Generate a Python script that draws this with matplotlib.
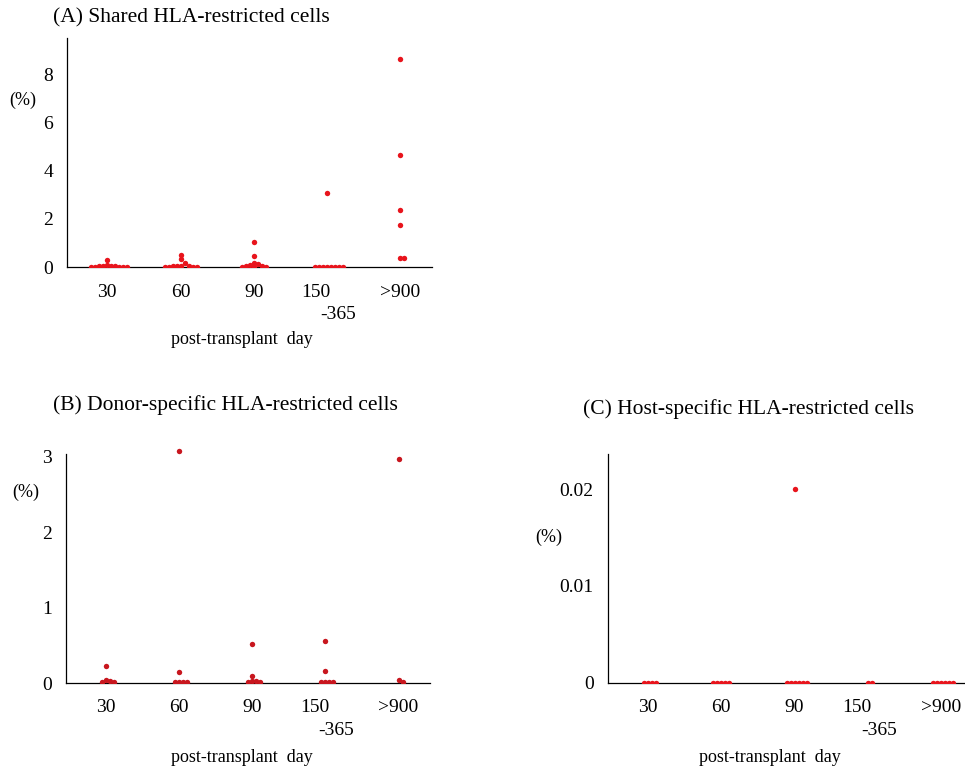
import matplotlib
matplotlib.use("Agg")
import matplotlib.pyplot as plt

# ── Data (percent of cells) ───────────────────────────────────
CATEGORIES = ["30", "60", "90", "150", ">900"]

SHARED = [
    [0.3, 0.1, 0.05, 0.04, 0.03, 0.03, 0.02, 0.02, 0.01, 0.01, 0.0],
    [0.5, 0.33, 0.17, 0.05, 0.04, 0.03, 0.03, 0.02, 0.02, 0.01, 0.01],
    [1.05, 0.47, 0.18, 0.12, 0.08, 0.05, 0.03, 0.02, 0.01, 0.0],
    [3.07, 0.02, 0.02, 0.02, 0.02, 0.02, 0.02, 0.02, 0.02],
    [8.62, 4.65, 2.38, 1.76, 0.39, 0.39],
]

DONOR = [
    [0.22, 0.04, 0.02, 0.01, 0.01],
    [3.08, 0.14, 0.01, 0.01, 0.01, 0.01],
    [0.52, 0.09, 0.03, 0.02, 0.01, 0.01],
    [0.56, 0.16, 0.01, 0.01, 0.01, 0.01],
    [2.97, 0.035, 0.01],
]

HOST = [
    [0, 0, 0, 0],
    [0, 0, 0, 0, 0],
    [0.02, 0, 0, 0, 0, 0, 0],
    [0, 0],
    [0, 0, 0, 0, 0, 0],
]

# ── Style ─────────────────────────────────────────────────────
W, H, DPI = 965, 773, 100
FONT = "Liberation Serif"
plt.rcParams["font.family"] = [FONT, "DejaVu Serif"]
TICK_SIZE = 14
LABEL_SIZE = 13
TITLE_SIZE = 15.5
DOT_PX = 5.4
STEP_PX = 4.0


def px_axes(fig, left, top, right, bottom):
    """Add axes from pixel coordinates (origin top-left)."""
    return fig.add_axes([left / W, (H - bottom) / H, (right - left) / W, (bottom - top) / H])


def swarm_x(ax, xc, values):
    """Simple beeswarm: spread colliding points sideways in pixel space."""
    (x0, y0), (x1, y1) = ax.transData.transform([(0, 0), (1, 1)])
    sx, sy = x1 - x0, y1 - y0
    placed, xs = [], []
    for v in values:
        py = v * sy
        for k in range(40):
            c = (k + 1) // 2 * (1 if k % 2 else -1)
            px = c * STEP_PX
            if all((px - qx) ** 2 + (py - qy) ** 2 >= STEP_PX ** 2 for qx, qy in placed):
                break
        placed.append((px, py))
        xs.append(xc + px / sx)
    return xs


def cat_label(ax, i, text, dx=0, dy=-18):
    ax.annotate(text, xy=(i, 0), xycoords=("data", "axes fraction"),
                xytext=(dx, dy), textcoords="offset points",
                ha="center", va="center", fontsize=TICK_SIZE)


def draw_panel(fig, box, groups, ylim, spine_top, yticks, yticklabels, color,
               title, title_xy, pct_xy, xlabel_xy):
    ax = px_axes(fig, *box)
    ax.set_xlim(-0.55, 4.43)
    ax.set_ylim(*ylim)
    for side in ("top", "right"):
        ax.spines[side].set_visible(False)
    ax.spines["left"].set_bounds(ylim[0], spine_top)
    for side in ("left", "bottom"):
        ax.spines[side].set_linewidth(0.9)

    ms = (DOT_PX * 72 / DPI) ** 2
    for i, vals in enumerate(groups):
        ax.scatter(swarm_x(ax, i, vals), vals, s=ms, color=color, linewidths=0, zorder=3)

    ax.set_yticks(yticks)
    ax.set_yticklabels(yticklabels)
    ax.set_xticks([])
    ax.tick_params(axis="both", length=0, labelsize=TICK_SIZE)
    ax.tick_params(axis="y", pad=10)

    # category labels, with the Excel-style wrapped "150 / -365"
    for i, name in enumerate(CATEGORIES):
        if name == "150":
            cat_label(ax, i, "150", dx=-8)
            cat_label(ax, i, "-365", dx=8, dy=-34.5)
        else:
            cat_label(ax, i, name)

    fig.text(title_xy[0] / W, 1 - title_xy[1] / H, title, fontsize=TITLE_SIZE,
             ha="left", va="center")
    fig.text(pct_xy[0] / W, 1 - pct_xy[1] / H, "(%)", fontsize=LABEL_SIZE,
             ha="center", va="center")
    fig.text(xlabel_xy[0] / W, 1 - xlabel_xy[1] / H, "post-transplant  day",
             fontsize=LABEL_SIZE, ha="center", va="center")
    return ax


fig = plt.figure(figsize=(W / DPI, H / DPI), dpi=DPI)

draw_panel(fig, (67, 38, 432, 267), SHARED, (0, 9.5), 9.5,
           [0, 2, 4, 6, 8], ["0", "2", "4", "6", "8"], "#e8141c",
           "(A) Shared HLA-restricted cells", (53, 18), (23, 100), (242, 340))

draw_panel(fig, (66, 445.5, 430, 683), DONOR, (0, 3.15), 3.04,
           [0, 1, 2, 3], ["0", "1", "2", "3"], "#c8161e",
           "(B) Donor-specific HLA-restricted cells", (53, 405), (26, 492), (242, 757))

draw_panel(fig, (607.7, 454, 972.7, 682.7), HOST, (0, 0.02365), 0.02365,
           [0, 0.01, 0.02], ["0", "0.01", "0.02"], "#e8141c",
           "(C) Host-specific HLA-restricted cells", (583, 409), (549, 537), (770, 757))

fig.savefig("out.png", dpi=DPI)
